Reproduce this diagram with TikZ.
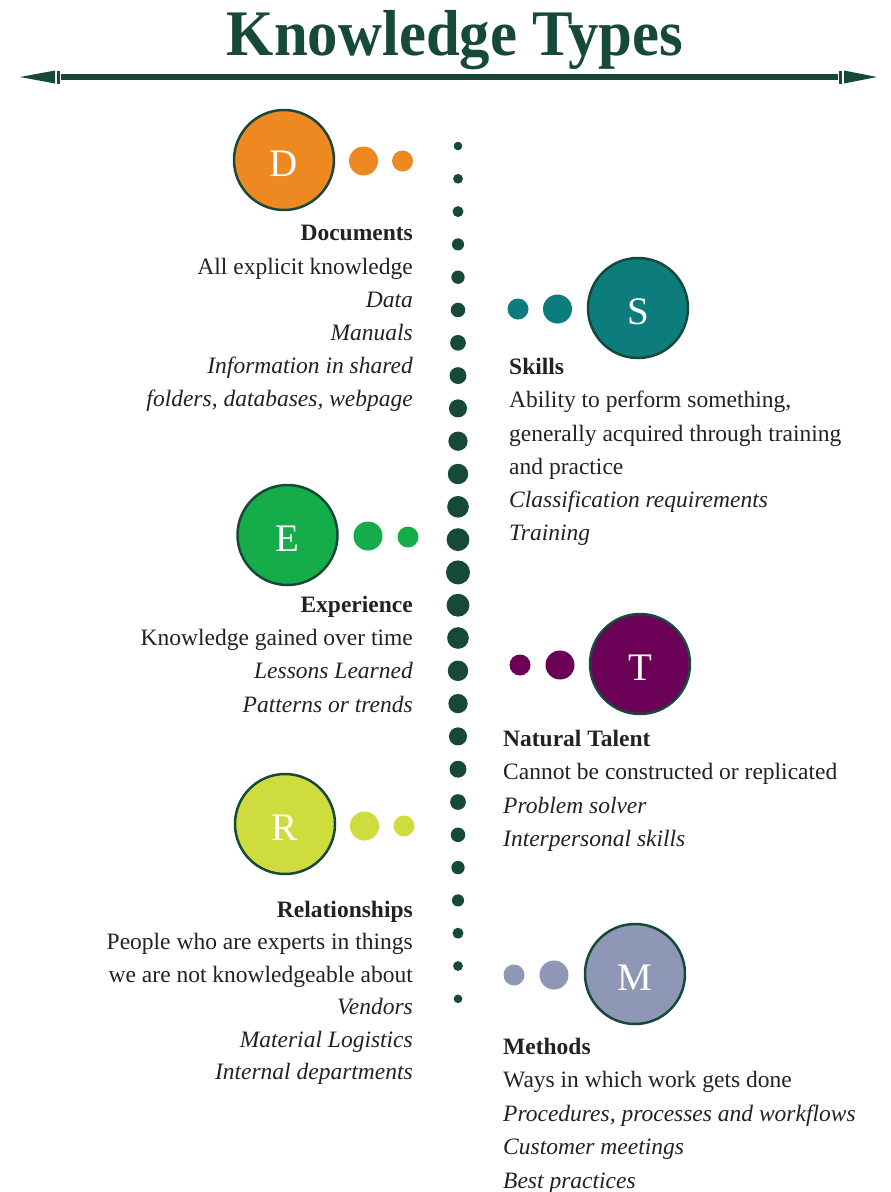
\documentclass[tikz,border=0pt]{standalone}
\usepackage{graphicx}
\usepackage{fontspec}
\setmainfont{Liberation Serif}
\definecolor{dkgreen}{HTML}{17493B}
\definecolor{cD}{HTML}{EE8921}
\definecolor{cS}{HTML}{0D7C7C}
\definecolor{cE}{HTML}{14AD4A}
\definecolor{cT}{HTML}{6B0057}
\definecolor{cR}{HTML}{CFDC3E}
\definecolor{cM}{HTML}{8E98B6}
\definecolor{txt}{HTML}{222222}
\tikzset{
  bigc/.style={circle, draw=dkgreen, line width=2.5pt, minimum size=100pt, inner sep=0pt,
    text=white, text height=32pt, text depth=0pt, font=\fontsize{39}{40}\selectfont},
  medc/.style={circle, inner sep=0pt, minimum size=29pt},
  smlc/.style={circle, inner sep=0pt, minimum size=21pt},
  spinedot/.style={circle, fill=dkgreen, inner sep=0pt},
  lt/.style={anchor=base east, inner sep=0pt, text=txt, font=\fontsize{23.5}{28}\selectfont},
  rt/.style={anchor=base west, inner sep=0pt, text=txt, font=\fontsize{23.5}{28}\selectfont},
}
\begin{document}
\begin{tikzpicture}[x=1pt,y=-1pt]
\useasboundingbox (0,0) rectangle (891,1192);
\fill[white] (0,0) rectangle (891,1192);

% title
\node[anchor=base, inner sep=0pt, text=dkgreen, font=\fontsize{65}{70}\selectfont\bfseries]
  (title) at (455,55) {\scalebox{0.935}[1]{Knowledge Types}};

% double arrow
\coordinate (al) at (20,77);
\coordinate (ar) at (877,77);
\coordinate (bl) at (61,77);
\coordinate (br) at (838,77);
\draw[dkgreen, line width=6.5pt] (bl) -- (br);
\fill[dkgreen] (57,70.5) rectangle (60,83.5);
\fill[dkgreen] (al) -- (55,70.5) -- (55,83.5) -- cycle;
\fill[dkgreen] (839,70.5) rectangle (842,83.5);
\fill[dkgreen] (ar) -- (844,70.5) -- (844,83.5) -- cycle;

% spine dots
\foreach \i in {0,...,26}{
  \pgfmathsetmacro\dd{2*(4.3+7.7*(1-abs(\i-13)/13))}
  \node[spinedot, minimum size=\dd pt] (s\i) at (458,{146+\i*32.8}) {};
}

% Documents
\node[bigc, fill=cD] (D) at (284,160) {D};
\node[medc, fill=cD] (D1) at (363.5,161) {};
\node[smlc, fill=cD] (D2) at (402.5,161) {};
\node[lt, font=\fontsize{23.5}{28}\selectfont\bfseries] (D0) at (413,240) {Documents};
\node[lt] (Da) at (413,274) {All explicit knowledge};
\node[lt] (Db) at (413,307) {\itshape Data};
\node[lt] (Dc) at (413,340) {\itshape Manuals};
\node[lt] (Dd) at (413,373) {\itshape Information in shared};
\node[lt] (De) at (413,406) {\itshape folders, databases, webpage};

% Skills
\node[bigc, fill=cS] (S) at (638,308) {S};
\node[medc, fill=cS] (S1) at (557.5,309) {};
\node[smlc, fill=cS] (S2) at (518,309) {};
\node[rt, font=\fontsize{23.5}{28}\selectfont\bfseries] (S0) at (509,374) {Skills};
\node[rt] (Sa) at (509,407) {Ability to perform something,};
\node[rt] (Sb) at (509,441) {generally acquired through training};
\node[rt] (Sc) at (509,474) {and practice};
\node[rt] (Sd) at (509,507) {\itshape Classification requirements};
\node[rt] (Se) at (509,540) {\itshape Training};

% Experience
\node[bigc, fill=cE] (E) at (287.5,535) {E};
\node[medc, fill=cE] (E1) at (368,536) {};
\node[smlc, fill=cE] (E2) at (408,537) {};
\node[lt, font=\fontsize{23.5}{28}\selectfont\bfseries] (E0) at (413,612) {Experience};
\node[lt] (Ea) at (413,645) {Knowledge gained over time};
\node[lt] (Eb) at (413,678) {\itshape Lessons Learned};
\node[lt] (Ec) at (413,712) {\itshape Patterns or trends};

% Natural Talent
\node[bigc, fill=cT] (T) at (640,664) {T};
\node[medc, fill=cT] (T1) at (560,665) {};
\node[smlc, fill=cT] (T2) at (520,665) {};
\node[rt, font=\fontsize{23.5}{28}\selectfont\bfseries] (T0) at (503,746) {Natural Talent};
\node[rt] (Ta) at (503,779) {Cannot be constructed or replicated};
\node[rt] (Tb) at (503,813) {\itshape Problem solver};
\node[rt] (Tc) at (503,846) {\itshape Interpersonal skills};

% Relationships
\node[bigc, fill=cR] (R) at (285,824) {R};
\node[medc, fill=cR] (R1) at (364.5,826) {};
\node[smlc, fill=cR] (R2) at (404,826) {};
\node[lt, font=\fontsize{23.5}{28}\selectfont\bfseries] (R0) at (413,917) {Relationships};
\node[lt] (Ra) at (413,949) {People who are experts in things};
\node[lt] (Rb) at (413,982) {we are not knowledgeable about};
\node[lt] (Rc) at (413,1014) {\itshape Vendors};
\node[lt] (Rd) at (413,1047) {\itshape Material Logistics};
\node[lt] (Re) at (413,1079) {\itshape Internal departments};

% Methods
\node[bigc, fill=cM] (M) at (635,974) {M};
\node[medc, fill=cM] (M1) at (554,975) {};
\node[smlc, fill=cM] (M2) at (514,975) {};
\node[rt, font=\fontsize{23.5}{28}\selectfont\bfseries] (M0) at (503,1054) {Methods};
\node[rt] (Ma) at (503,1087) {Ways in which work gets done};
\node[rt] (Mb) at (503,1121) {\itshape Procedures, processes and workflows};
\node[rt] (Mc) at (503,1154) {\itshape Customer meetings};
\node[rt] (Md) at (503,1188) {\itshape Best practices};
\end{tikzpicture}
\end{document}
